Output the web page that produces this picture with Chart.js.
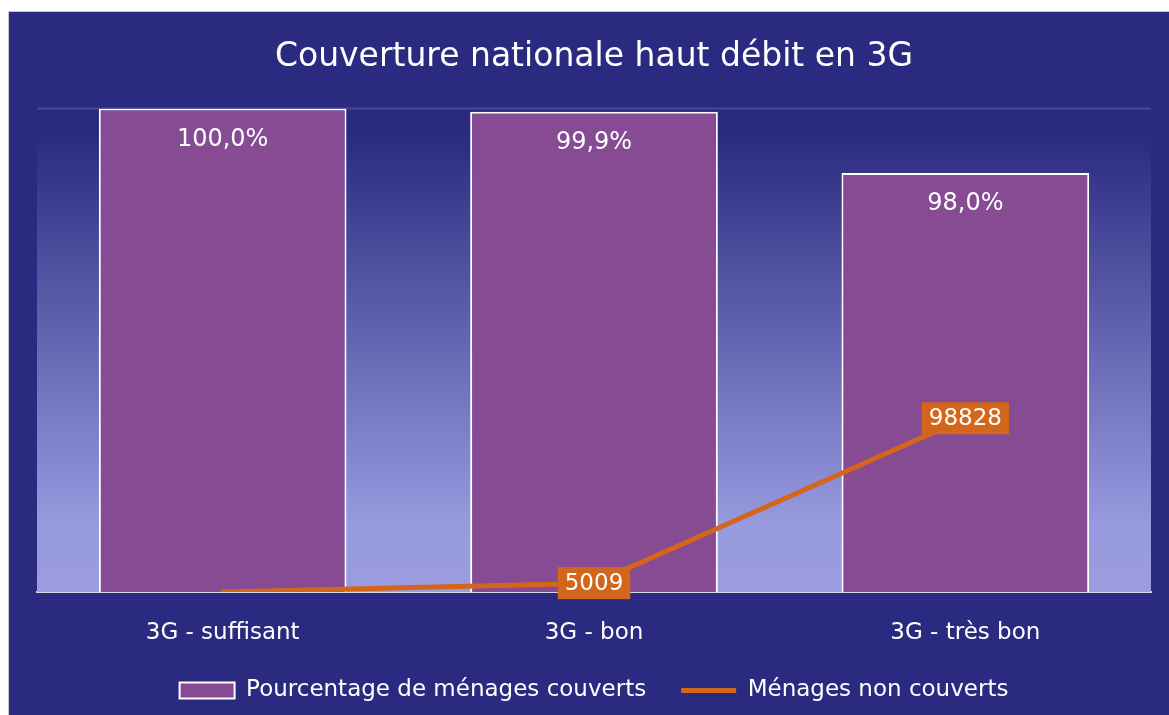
<!DOCTYPE html>
<html>
<head>
<meta charset="utf-8">
<script src="https://cdn.jsdelivr.net/npm/chart.js@4.4.1/dist/chart.umd.min.js"></script>
<style>
  html, body { margin: 0; padding: 0; background: #fff; }
  #frame {
    position: absolute; left: 8px; top: 11px; width: 1160px; height: 703px;
    background: #2a2a80; border-left: 1px solid #c8c8c8; border-top: 1px solid #c8c8c8;
  }
</style>
</head>
<body>
<div id="frame"><canvas id="chart" width="1160" height="703"></canvas></div>
<script>
const categories = ['3G - suffisant', '3G - bon', '3G - très bon'];
const pctCovered = [100.0, 99.9, 98.0];
const pctLabels = ['100,0%', '99,9%', '98,0%'];
const notCovered = [0, 5009, 98828];
const notCoveredLabels = [null, '5009', '98828'];

const FONT = '"DejaVu Sans", Verdana, sans-serif';
const PURPLE = '#864b92';
const ORANGE = '#d3661a';

// plot background gradient + faint top line
const plotBg = {
  id: 'plotBg',
  beforeDatasetsDraw(chart) {
    const { ctx, chartArea: a } = chart;
    const g = ctx.createLinearGradient(0, a.top, 0, a.bottom);
    g.addColorStop(0, '#2a2a80');
    g.addColorStop(0.06, '#2b2c81');
    g.addColorStop(0.86, '#979ade');
    g.addColorStop(1, '#9c9ce0');
    ctx.save();
    ctx.fillStyle = g;
    ctx.fillRect(a.left, a.top, a.right - a.left, a.bottom - a.top);
    ctx.strokeStyle = 'rgba(255,255,255,0.15)';
    ctx.lineWidth = 2;
    ctx.beginPath();
    ctx.moveTo(a.left, a.top);
    ctx.lineTo(a.right, a.top);
    ctx.stroke();
    ctx.restore();
  }
};

// value labels
const valueLabels = {
  id: 'valueLabels',
  afterDatasetsDraw(chart) {
    const { ctx } = chart;
    ctx.save();
    ctx.textAlign = 'center';
    ctx.textBaseline = 'middle';
    ctx.font = '24px ' + FONT;
    const bars = chart.getDatasetMeta(1).data;
    bars.forEach((b, i) => {
      ctx.fillStyle = '#ffffff';
      ctx.fillText(pctLabels[i], b.x, b.y + 31);
    });
    ctx.font = '23px ' + FONT;
    const pts = chart.getDatasetMeta(0).data;
    pts.forEach((p, i) => {
      const t = notCoveredLabels[i];
      if (!t) return;
      const w = ctx.measureText(t).width + 14;
      const h = 32;
      ctx.fillStyle = ORANGE;
      ctx.fillRect(p.x - w / 2, p.y - h / 2, w, h);
      ctx.fillStyle = '#ffffff';
      ctx.fillText(t, p.x, p.y + 1);
    });
    ctx.restore();
  }
};

new Chart(document.getElementById('chart'), {
  data: {
    labels: categories,
    datasets: [
      {
        type: 'line',
        label: 'Ménages non couverts',
        data: notCovered,
        yAxisID: 'y2',
        borderColor: ORANGE,
        backgroundColor: ORANGE,
        borderWidth: 5,
        borderCapStyle: 'round',
        pointRadius: 0,
        pointStyle: 'line',
        tension: 0,
        order: 0
      },
      {
        type: 'bar',
        label: 'Pourcentage de ménages couverts',
        data: pctCovered,
        yAxisID: 'y',
        backgroundColor: PURPLE,
        borderColor: '#ffffff',
        borderWidth: 2,
        categoryPercentage: 0.667,
        barPercentage: 1,
        pointStyle: 'rect',
        order: 1
      }
    ]
  },
  options: {
    responsive: false,
    animation: false,
    layout: { padding: { left: 28, right: 18, top: 0, bottom: 3 } },
    plugins: {
      title: {
        display: true,
        text: 'Couverture nationale haut débit en 3G',
        color: '#ffffff',
        font: { family: FONT, size: 33, weight: 'normal' },
        padding: { top: 26, bottom: 31 }
      },
      legend: {
        position: 'bottom',
        labels: {
          color: '#ffffff',
          font: { family: FONT, size: 23 },
          usePointStyle: true,
          pointStyleWidth: 55,
          boxHeight: 16,
          padding: 35,
          sort: (a, b) => b.datasetIndex - a.datasetIndex
        }
      },
      tooltip: { enabled: false }
    },
    scales: {
      x: {
        grid: { display: false, drawTicks: false },
        border: { display: true, color: '#d8d8e6', width: 2 },
        ticks: { color: '#ffffff', font: { family: FONT, size: 23, lineHeight: 1 }, padding: 30 },
        afterFit(s) { s.height = 52; }
      },
      y: { display: false, min: 85, max: 100 },
      y2: { display: false, min: 0, max: 275000 }
    }
  },
  plugins: [plotBg, valueLabels]
});
</script>
</body>
</html>
